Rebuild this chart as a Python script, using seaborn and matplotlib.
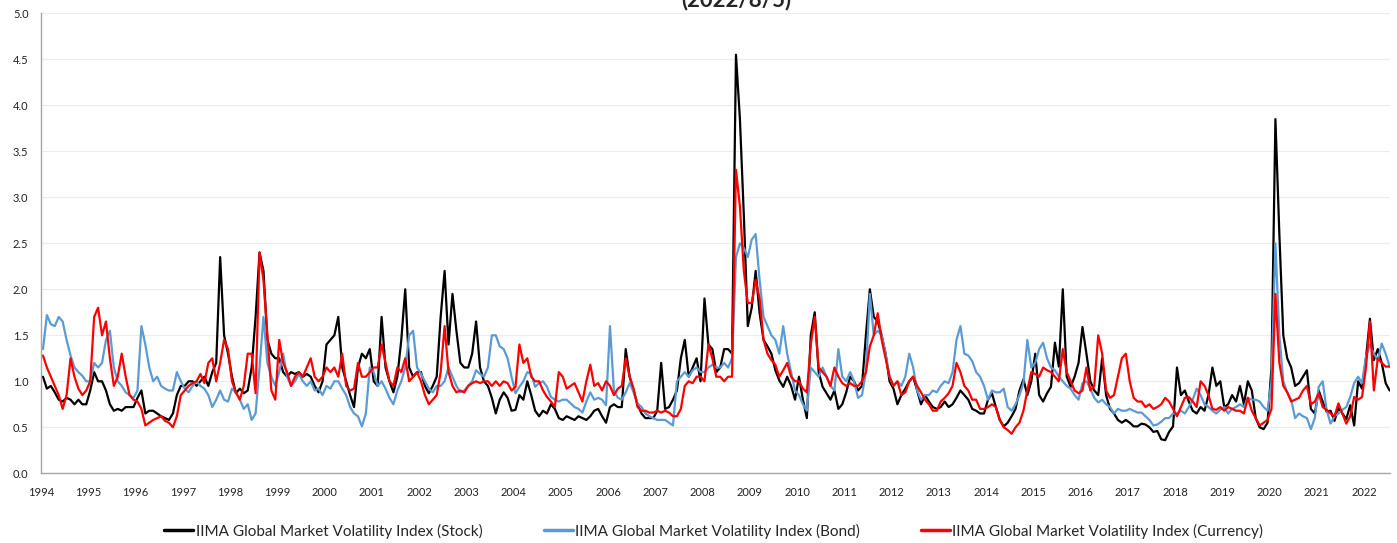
import numpy as np
import pandas as pd
import matplotlib
matplotlib.use("Agg")
import matplotlib.pyplot as plt
from matplotlib.lines import Line2D
import seaborn as sns

# Monthly values (Jan 1994 .. Jul 2022)
stock = [
    1.05, 0.92, 0.95, 0.88, 0.80, 0.78, 0.82, 0.80, 0.75, 0.80, 0.75, 0.75,  # 1994
    0.90, 1.10, 1.00, 1.00, 0.90, 0.75, 0.68, 0.70, 0.68, 0.72, 0.72, 0.72,  # 1995
    0.82, 0.90, 0.65, 0.68, 0.68, 0.65, 0.62, 0.60, 0.58, 0.65, 0.85, 0.95,  # 1996
    0.95, 1.00, 1.00, 0.95, 1.00, 1.05, 0.95, 1.10, 1.20, 2.35, 1.50, 1.30,  # 1997
    1.05, 0.87, 0.92, 0.87, 0.90, 1.15, 1.70, 2.40, 2.20, 1.45, 1.30, 1.25,  # 1998
    1.25, 1.10, 1.05, 1.10, 1.08, 1.10, 1.05, 1.08, 1.05, 0.95, 0.88, 1.00,  # 1999
    1.40, 1.45, 1.50, 1.70, 1.15, 1.00, 0.85, 0.72, 1.15, 1.30, 1.25, 1.35,  # 2000
    1.00, 0.95, 1.70, 1.15, 1.00, 0.88, 1.05, 1.45, 2.00, 1.15, 1.05, 1.10,  # 2001
    1.10, 0.95, 0.87, 0.95, 1.05, 1.70, 2.20, 1.40, 1.95, 1.55, 1.20, 1.15,  # 2002
    1.15, 1.30, 1.65, 1.15, 1.00, 0.95, 0.82, 0.65, 0.80, 0.88, 0.82, 0.68,  # 2003
    0.69, 0.85, 0.80, 1.00, 0.85, 0.68, 0.62, 0.68, 0.65, 0.75, 0.70, 0.60,  # 2004
    0.58, 0.62, 0.60, 0.58, 0.62, 0.60, 0.58, 0.62, 0.68, 0.70, 0.62, 0.55,  # 2005
    0.72, 0.75, 0.72, 0.72, 1.35, 1.05, 0.90, 0.75, 0.65, 0.60, 0.60, 0.60,  # 2006
    0.68, 1.20, 0.70, 0.72, 0.80, 0.90, 1.25, 1.45, 1.05, 1.15, 1.25, 1.00,  # 2007
    1.90, 1.40, 1.35, 1.10, 1.15, 1.35, 1.35, 1.30, 4.55, 3.85, 2.80, 1.60,  # 2008
    1.80, 2.20, 1.74, 1.45, 1.38, 1.30, 1.12, 1.01, 0.94, 1.05, 0.95, 0.80,  # 2009
    1.05, 0.80, 0.60, 1.50, 1.75, 1.10, 0.94, 0.87, 0.80, 0.90, 0.70, 0.75,  # 2010
    0.88, 1.05, 1.00, 0.90, 0.95, 1.50, 2.00, 1.70, 1.65, 1.50, 1.30, 1.00,  # 2011
    0.92, 0.75, 0.85, 0.92, 1.00, 1.05, 0.90, 0.75, 0.85, 0.78, 0.72, 0.70,  # 2012
    0.72, 0.78, 0.72, 0.75, 0.82, 0.90, 0.85, 0.80, 0.70, 0.68, 0.65, 0.65,  # 2013
    0.80, 0.87, 0.72, 0.58, 0.51, 0.55, 0.62, 0.70, 0.90, 1.02, 0.85, 1.00,  # 2014
    1.30, 0.85, 0.78, 0.87, 0.94, 1.42, 1.16, 2.00, 1.05, 0.94, 1.05, 1.20,  # 2015
    1.59, 1.30, 1.00, 0.90, 0.85, 1.25, 0.85, 0.70, 0.65, 0.58, 0.55, 0.58,  # 2016
    0.55, 0.51, 0.51, 0.54, 0.53, 0.50, 0.45, 0.46, 0.37, 0.36, 0.45, 0.51,  # 2017
    1.15, 0.85, 0.90, 0.78, 0.68, 0.65, 0.72, 0.68, 0.85, 1.15, 0.95, 1.00,  # 2018
    0.72, 0.75, 0.85, 0.78, 0.95, 0.75, 1.00, 0.90, 0.60, 0.50, 0.48, 0.55,  # 2019
    1.15, 3.85, 2.60, 1.50, 1.25, 1.15, 0.95, 0.98, 1.05, 1.12, 0.70, 0.65,  # 2020
    0.90, 0.78, 0.67, 0.68, 0.57, 0.71, 0.65, 0.59, 0.74, 0.52, 1.00, 0.92,  # 2021
    1.25, 1.68, 1.23, 1.35, 1.20, 0.98, 0.90,                                # 2022
]

bond = [
    1.35, 1.72, 1.62, 1.60, 1.70, 1.65, 1.45, 1.28, 1.15, 1.10, 1.06, 1.00,  # 1994
    1.00, 1.20, 1.15, 1.20, 1.45, 1.55, 1.15, 1.00, 0.95, 0.88, 0.85, 0.82,  # 1995
    0.90, 1.60, 1.40, 1.15, 1.00, 1.05, 0.95, 0.92, 0.90, 0.90, 1.10, 1.00,  # 1996
    0.92, 0.88, 0.95, 1.00, 0.95, 0.92, 0.85, 0.72, 0.80, 0.90, 0.80, 0.78,  # 1997
    0.92, 0.88, 0.80, 0.70, 0.75, 0.58, 0.65, 1.15, 1.70, 1.20, 1.05, 0.95,  # 1998
    1.10, 1.30, 1.05, 0.95, 1.00, 1.08, 1.00, 0.95, 1.00, 0.90, 0.92, 0.85,  # 1999
    0.95, 0.92, 1.00, 1.00, 0.92, 0.85, 0.72, 0.65, 0.62, 0.51, 0.65, 1.15,  # 2000
    1.10, 0.95, 1.00, 0.92, 0.82, 0.75, 0.90, 1.00, 1.15, 1.50, 1.55, 1.15,  # 2001
    1.08, 1.00, 0.92, 0.88, 0.95, 0.95, 1.00, 1.15, 1.05, 0.95, 0.88, 0.90,  # 2002
    0.95, 1.00, 1.12, 1.08, 1.05, 1.15, 1.50, 1.50, 1.38, 1.35, 1.25, 1.05,  # 2003
    0.87, 0.94, 1.00, 1.10, 1.08, 0.94, 0.98, 1.00, 0.94, 0.83, 0.80, 0.78,  # 2004
    0.80, 0.80, 0.76, 0.72, 0.70, 0.66, 0.78, 0.88, 0.80, 0.82, 0.80, 0.74,  # 2005
    1.60, 0.90, 0.82, 0.80, 0.88, 0.98, 0.88, 0.76, 0.72, 0.65, 0.62, 0.60,  # 2006
    0.58, 0.58, 0.58, 0.55, 0.52, 1.00, 1.05, 1.10, 1.05, 1.12, 1.15, 1.10,  # 2007
    1.10, 1.15, 1.18, 1.15, 1.15, 1.20, 1.15, 1.25, 2.35, 2.50, 2.45, 2.35,  # 2008
    2.54, 2.60, 2.10, 1.70, 1.60, 1.50, 1.45, 1.30, 1.60, 1.30, 1.10, 0.90,  # 2009
    0.85, 0.75, 0.68, 1.15, 1.10, 1.05, 1.15, 1.05, 0.95, 0.90, 1.35, 1.05,  # 2010
    1.00, 1.10, 1.00, 0.82, 0.85, 1.10, 1.95, 1.50, 1.55, 1.50, 1.30, 1.05,  # 2011
    0.95, 1.00, 0.95, 1.05, 1.30, 1.15, 0.90, 0.80, 0.85, 0.85, 0.90, 0.88,  # 2012
    0.95, 1.00, 0.98, 1.10, 1.45, 1.60, 1.30, 1.28, 1.22, 1.10, 1.05, 0.95,  # 2013
    0.80, 0.90, 0.88, 0.88, 0.92, 0.72, 0.68, 0.75, 0.85, 0.98, 1.45, 1.15,  # 2014
    1.20, 1.35, 1.42, 1.25, 1.15, 1.12, 1.05, 1.00, 0.95, 0.92, 0.85, 0.80,  # 2015
    0.98, 1.00, 0.92, 0.82, 0.77, 0.80, 0.75, 0.72, 0.65, 0.70, 0.68, 0.68,  # 2016
    0.70, 0.68, 0.66, 0.66, 0.62, 0.58, 0.52, 0.53, 0.56, 0.60, 0.60, 0.65,  # 2017
    0.65, 0.68, 0.65, 0.72, 0.80, 0.92, 0.85, 0.75, 0.72, 0.68, 0.65, 0.69,  # 2018
    0.72, 0.65, 0.70, 0.72, 0.75, 0.72, 0.82, 0.80, 0.80, 0.78, 0.72, 0.68,  # 2019
    1.00, 2.50, 1.50, 1.00, 0.88, 0.80, 0.60, 0.65, 0.62, 0.60, 0.48, 0.60,  # 2020
    0.94, 1.00, 0.69, 0.54, 0.62, 0.65, 0.69, 0.72, 0.83, 0.98, 1.05, 0.98,  # 2021
    1.27, 1.40, 1.30, 1.23, 1.41, 1.30, 1.16,                                # 2022
]

currency = [
    1.28, 1.15, 1.05, 0.95, 0.85, 0.70, 0.85, 1.25, 1.05, 0.92, 0.85, 0.90,  # 1994
    1.00, 1.70, 1.80, 1.50, 1.65, 1.25, 0.95, 1.05, 1.30, 1.05, 0.85, 0.80,  # 1995
    0.78, 0.70, 0.52, 0.55, 0.58, 0.60, 0.62, 0.57, 0.55, 0.50, 0.62, 0.85,  # 1996
    0.90, 0.95, 0.98, 1.00, 1.08, 0.98, 1.20, 1.25, 1.00, 1.20, 1.45, 1.35,  # 1997
    1.00, 0.88, 0.80, 0.95, 1.30, 1.30, 0.87, 2.40, 2.10, 1.50, 0.90, 0.80,  # 1998
    1.45, 1.20, 1.10, 0.95, 1.05, 1.10, 1.05, 1.15, 1.25, 1.05, 1.00, 1.05,  # 1999
    1.15, 1.10, 1.15, 1.05, 1.30, 0.95, 0.90, 0.92, 1.20, 1.05, 1.05, 1.10,  # 2000
    1.15, 1.15, 1.40, 1.20, 1.00, 0.95, 1.15, 1.10, 1.25, 1.00, 1.05, 1.10,  # 2001
    1.00, 0.85, 0.75, 0.80, 0.85, 1.10, 1.60, 1.10, 0.95, 0.88, 0.90, 0.88,  # 2002
    0.95, 0.98, 1.00, 0.98, 1.00, 1.00, 0.95, 1.00, 0.95, 1.00, 0.98, 0.90,  # 2003
    0.94, 1.40, 1.20, 1.25, 1.05, 1.00, 1.00, 0.90, 0.83, 0.78, 0.72, 1.10,  # 2004
    1.05, 0.92, 0.95, 0.98, 0.88, 0.78, 1.00, 1.18, 0.95, 0.98, 0.90, 1.00,  # 2005
    0.95, 0.85, 0.92, 0.95, 1.25, 1.05, 0.92, 0.72, 0.68, 0.68, 0.66, 0.66,  # 2006
    0.68, 0.66, 0.68, 0.66, 0.62, 0.62, 0.70, 0.95, 1.00, 0.98, 1.05, 1.05,  # 2007
    1.00, 1.40, 1.25, 1.05, 1.05, 1.00, 1.05, 1.05, 3.30, 2.90, 2.20, 1.85,  # 2008
    1.85, 2.10, 1.90, 1.45, 1.30, 1.23, 1.18, 1.05, 1.12, 1.20, 1.05, 1.00,  # 2009
    1.00, 0.92, 0.88, 1.40, 1.70, 1.15, 1.10, 1.05, 0.95, 1.15, 1.05, 0.98,  # 2010
    0.95, 0.98, 0.95, 0.95, 1.00, 1.10, 1.38, 1.50, 1.74, 1.45, 1.25, 1.05,  # 2011
    0.95, 1.00, 0.85, 0.88, 1.00, 1.05, 0.95, 0.88, 0.80, 0.75, 0.68, 0.68,  # 2012
    0.78, 0.82, 0.87, 0.95, 1.20, 1.10, 0.95, 0.90, 0.80, 0.80, 0.70, 0.70,  # 2013
    0.72, 0.75, 0.72, 0.58, 0.50, 0.47, 0.43, 0.50, 0.55, 0.68, 0.90, 1.10,  # 2014
    1.08, 1.05, 1.15, 1.12, 1.10, 1.05, 1.00, 1.35, 1.10, 1.00, 0.90, 0.87,  # 2015
    0.90, 1.15, 0.90, 0.95, 1.50, 1.30, 0.90, 0.82, 0.85, 1.05, 1.25, 1.30,  # 2016
    1.00, 0.82, 0.78, 0.78, 0.72, 0.75, 0.70, 0.72, 0.75, 0.82, 0.78, 0.70,  # 2017
    0.62, 0.72, 0.82, 0.83, 0.78, 0.72, 1.00, 0.95, 0.85, 0.70, 0.69, 0.72,  # 2018
    0.68, 0.72, 0.70, 0.68, 0.68, 0.65, 0.82, 0.68, 0.60, 0.52, 0.55, 0.58,  # 2019
    0.70, 1.95, 1.20, 0.95, 0.88, 0.78, 0.80, 0.82, 0.90, 0.95, 0.75, 0.78,  # 2020
    0.87, 0.72, 0.69, 0.65, 0.62, 0.76, 0.65, 0.54, 0.62, 0.83, 0.80, 0.83,  # 2021
    1.15, 1.65, 0.90, 1.25, 1.20, 1.16, 1.16,                                # 2022
]

series_names = [
    "IIMA Global Market Volatility Index (Stock)",
    "IIMA Global Market Volatility Index (Bond)",
    "IIMA Global Market Volatility Index (Currency)",
]
colors = ["#000000", "#5B9BD5", "#FF0000"]
year_ticks = list(range(1994, 2023))
y_ticks = [0.0, 0.5, 1.0, 1.5, 2.0, 2.5, 3.0, 3.5, 4.0, 4.5, 5.0]

frames = []
for name, vals in zip(series_names, [stock, bond, currency]):
    frames.append(pd.DataFrame({
        "year": 1994 + (np.arange(len(vals)) + 0.5) / 12,
        "value": vals,
        "series": name,
    }))
df = pd.concat(frames, ignore_index=True)

sns.set_style("white")
plt.rcParams["font.family"] = ["Lato", "DejaVu Sans"]

fig = plt.figure(figsize=(13.97, 5.43), dpi=100)
ax = fig.add_axes([41 / 1397, 1 - 473.3 / 543, (1390 - 41) / 1397, 460 / 543])

sns.lineplot(data=df, x="year", y="value", hue="series", palette=colors,
             estimator=None, linewidth=1.6, legend=False, ax=ax)

ax.set_xlim(1994, 2022.55)
ax.set_ylim(0, 5)
ax.set_xticks(year_ticks)
ax.set_xticklabels([str(y) for y in year_ticks])
ax.set_yticks(y_ticks)
ax.set_yticklabels([f"{v:.1f}" for v in y_ticks])
ax.set_xlabel("")
ax.set_ylabel("")

ax.grid(axis="y", color="#ececec", linewidth=0.8)
ax.set_axisbelow(True)
for side in ["top", "right"]:
    ax.spines[side].set_visible(False)
for side in ["left", "bottom"]:
    ax.spines[side].set_color("#a6a6a6")
    ax.spines[side].set_linewidth(1.0)
ax.tick_params(axis="both", direction="out", length=4, width=0.8,
               color="#a6a6a6", labelsize=8, labelcolor="#222222")
ax.tick_params(axis="x", pad=6)
ax.tick_params(axis="y", pad=5)

handles = [Line2D([0], [0], color=c, linewidth=2.5) for c in colors]
fig.legend(handles, series_names, loc="center", bbox_to_anchor=(0.511, 0.022),
           ncol=3, frameon=False, fontsize=11, handlelength=1.9,
           handletextpad=0.15, columnspacing=4.0)

fig.text(0.527, 1.0, "(2022/8/5)", ha="center", va="center",
         fontsize=16, fontweight="bold")

fig.savefig("out.png", dpi=100)
